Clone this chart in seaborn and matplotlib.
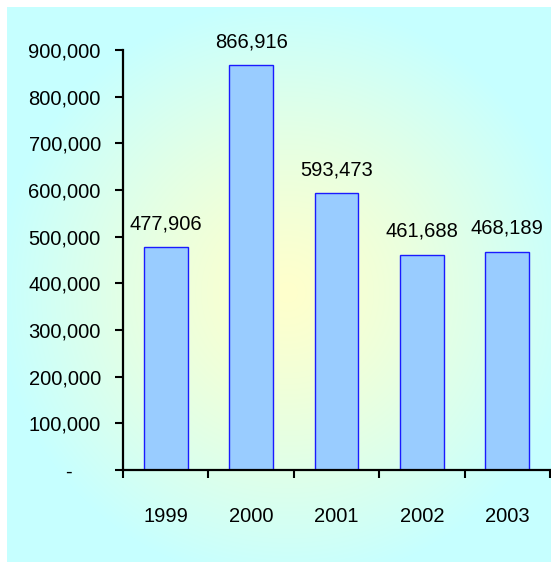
import numpy as np
import pandas as pd
import seaborn as sns
from matplotlib import pyplot as plt
from matplotlib import font_manager


YEARS = ["1999", "2000", "2001", "2002", "2003"]
VALUES = [477906, 866916, 593473, 461688, 468189]
Y_TICKS = [0, 100000, 200000, 300000, 400000, 500000, 600000, 700000, 800000, 900000]

W, H = 551, 562


def pick_font() -> str:
    names = {f.name for f in font_manager.fontManager.ttflist}
    for name in ["Liberation Sans Narrow", "Liberation Sans", "DejaVu Sans"]:
        if name in names:
            return name
    return "DejaVu Sans"


def fmt(v: int) -> str:
    # accounting style: zero shown as a dash set in from the right
    return "-     " if v == 0 else f"{v:,}"


def main() -> None:
    sns.set_theme(style="white")
    font = pick_font()
    plt.rcParams["font.family"] = [font, "DejaVu Sans"]
    narrow = "Narrow" in font
    fsize = 18 if narrow else 14.5

    fig = plt.figure(figsize=(W / 100, H / 100), dpi=100, facecolor="white")

    # background: radial gradient cyan -> pale yellow in the middle
    bg = fig.add_axes([7 / W, 0, 1 - 7 / W, (H - 7) / H], zorder=-1)
    bw, bh = W - 7, H - 7
    xx, yy = np.meshgrid(np.arange(bw), np.arange(bh))
    r = np.sqrt(((xx - 280) / 290) ** 2 + ((yy - 285) / 290) ** 2)
    t = np.clip(r, 0, 1)[..., None] ** 1.2
    yellow = np.array([1.0, 1.0, 0.80])
    cyan = np.array([0.78, 1.0, 1.0])
    img = yellow * (1 - t) + cyan * t
    bg.imshow(img, aspect="auto", interpolation="bilinear")
    bg.set_axis_off()

    ax = fig.add_axes([123 / W, 92 / H, (550 - 123) / W, 420 / H])
    ax.set_facecolor("none")

    df = pd.DataFrame({"year": YEARS, "value": VALUES})
    sns.barplot(data=df, x="year", y="value", color="#99CCFF", width=0.515,
                edgecolor="#1a1aff", linewidth=1.0, saturation=1, ax=ax)

    ax.set_xlim(-0.5, len(YEARS) - 0.5)
    ax.set_ylim(0, 900000)

    for i, v in enumerate(VALUES):
        ax.annotate(f"{v:,}", (i, v), xytext=(0, 10), textcoords="offset points",
                    ha="center", va="bottom", fontsize=fsize, color="black")

    ax.set_yticks(Y_TICKS)
    ax.set_yticklabels([fmt(v) for v in Y_TICKS], fontsize=fsize, color="black")

    bounds = np.arange(len(YEARS) + 1) - 0.5
    ax.set_xticks(bounds)
    ax.set_xticklabels([""] * len(bounds))
    ax.set_xticks(np.arange(len(YEARS)), minor=True)
    ax.set_xticklabels(YEARS, minor=True, fontsize=fsize, color="black")

    ax.tick_params(axis="x", which="major", direction="out", length=6, width=1.5,
                   color="black", bottom=True)
    ax.tick_params(axis="x", which="minor", length=0, pad=27, bottom=True)
    ax.tick_params(axis="y", direction="out", length=6, width=1.5, color="black",
                   left=True, pad=10)

    for side in ["top", "right"]:
        ax.spines[side].set_visible(False)
    for side in ["left", "bottom"]:
        ax.spines[side].set_color("black")
        ax.spines[side].set_linewidth(1.6)

    ax.set_xlabel("")
    ax.set_ylabel("")
    ax.grid(False)

    fig.savefig("out.png", dpi=100, facecolor="white")


if __name__ == "__main__":
    main()
